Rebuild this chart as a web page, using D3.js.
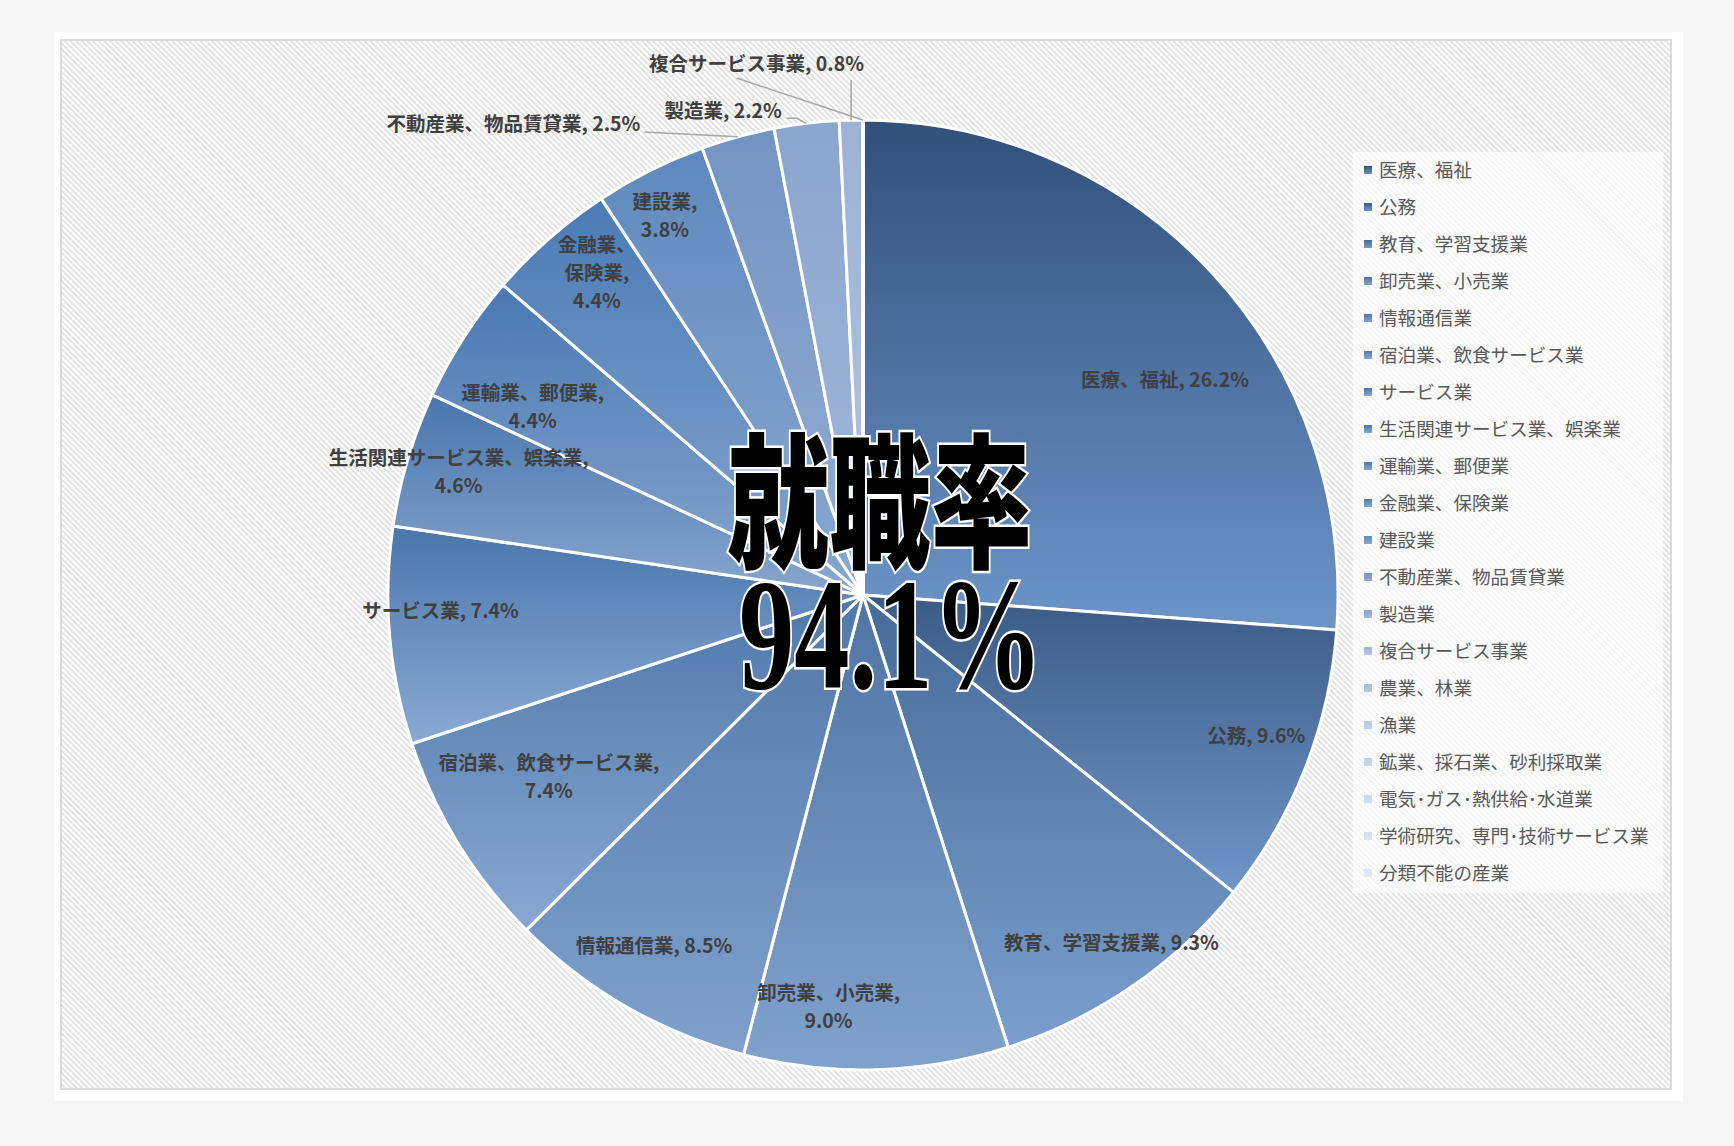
<!DOCTYPE html>
<html>
<head>
<meta charset="utf-8">
<script src="https://cdn.jsdelivr.net/npm/d3@7/dist/d3.min.js"></script>
<style>
  html, body { margin: 0; padding: 0; background: #f5f5f5; }
  svg { display: block; }
</style>
</head>
<body>
<svg id="chart"></svg>
<script>
// 業種別の就職者割合 (%)
const categories = [
  "医療、福祉", "公務", "教育、学習支援業", "卸売業、小売業", "情報通信業",
  "宿泊業、飲食サービス業", "サービス業", "生活関連サービス業、娯楽業", "運輸業、郵便業", "金融業、保険業",
  "建設業", "不動産業、物品賃貸業", "製造業", "複合サービス事業", "農業、林業",
  "漁業", "鉱業、採石業、砂利採取業", "電気･ガス･熱供給･水道業", "学術研究、専門･技術サービス業", "分類不能の産業"
];
const shares = [26.2, 9.6, 9.3, 9.0, 8.5, 7.4, 7.4, 4.6, 4.4, 4.4, 3.8, 2.5, 2.2, 0.8, 0, 0, 0, 0, 0, 0];
const centerTitle = "就職率";
const centerRate = "94.1%";

// slice gradient colours (top -> bottom)
const sliceTop = ["#31507a","#3b5b86","#476b99","#4f74a5","#5278aa","#4f78aa","#4a76ab","#4a76ad","#4a78b2","#4b7bb5",
                  "#5f89bd","#7393c2","#8aa5ce","#9cb2d6","#a6b9db","#b3c4e1","#c0cee6","#cbd6ea","#d5ddee","#dee4f1"];
const sliceBottom = ["#6c95c9","#6f96c8","#7a9ecd","#80a2cd","#80a1cc","#88a8d1","#8aaad3","#87a6cf","#88a8d0","#86a6cf",
                     "#8aa9d1","#94aed5","#a2b8da","#b3c5e1","#b9c8e2","#c2d0e6","#cdd8ea","#d5deee","#dde4f1","#e5eaf4"];

// label placement: angle nudge (deg) from slice middle, radius factor, line wrap
const labelLayout = [
  [7.5, 0.78, 1], [-1.7, 0.88, 1], [-1.0, 0.90, 1], [6.4, 0.87, 2], [0.9, 0.86, 1],
  [1.4, 0.765, 2], [2.8, 0.89, 1], [0.3, 0.89, 2], [-3.2, 0.80, 2], [1.8, 0.88, 3],
  [-1.0, 0.90, 2], [-21.3, 1.235, 1], [-9.3, 1.06, 1], [-9.9, 1.14, 1]
];

const width = 1734, height = 1146,
    cx = 863, cy = 595, radius = 475,
    labelFont = "'Noto Sans CJK JP', 'Noto Sans', sans-serif";

let svg = d3.select("#chart").attr("width", width).attr("height", height);
let defs = svg.append("defs");

let hatch = defs.append("pattern")
    .attr("id", "hatch")
    .attr("patternUnits", "userSpaceOnUse")
    .attr("width", 4).attr("height", 4)
    .attr("patternTransform", "rotate(-45)");
hatch.append("rect").attr("width", 4).attr("height", 4).attr("fill", "#ffffff");
hatch.append("rect").attr("width", 1.5).attr("height", 4).attr("fill", "#d9d9d9");

categories.forEach(function(c, i){
    let g = defs.append("linearGradient")
        .attr("id", "grad" + i)
        .attr("x1", 0).attr("y1", 0).attr("x2", 0).attr("y2", 1);
    g.append("stop").attr("offset", "0%").attr("stop-color", sliceTop[i]);
    g.append("stop").attr("offset", "100%").attr("stop-color", sliceBottom[i]);
});

// frame
svg.append("rect").attr("x", 54).attr("y", 32).attr("width", 1629).attr("height", 1069).attr("fill", "#ffffff");
svg.append("rect").attr("x", 61).attr("y", 40).attr("width", 1610).attr("height", 1049)
    .attr("fill", "url(#hatch)").attr("stroke", "#d9d9d9").attr("stroke-width", 2);

// pie
let pie = d3.pie().sort(null).value(function(d){ return d; }).startAngle(0).endAngle(2 * Math.PI);
let arcs = pie(shares);
let arc = d3.arc().innerRadius(0).outerRadius(radius);

let g = svg.append("g").attr("transform", "translate(" + cx + "," + cy + ")");
g.selectAll(".slice")
    .data(arcs)
    .enter()
    .append("path")
    .attr("class", "slice")
    .attr("d", arc)
    .attr("fill", function(d, i){ return "url(#grad" + i + ")"; })
    .attr("stroke", "#ffffff")
    .attr("stroke-width", 3)
    .attr("stroke-linejoin", "round");

function polar(angle, r){
    return [Math.sin(angle) * r, -Math.cos(angle) * r];
}

// data labels
let labels = g.append("g").attr("class", "labels");
labelLayout.forEach(function(l, i){
    let d = arcs[i],
        mid = (d.startAngle + d.endAngle) / 2,
        p = polar(mid + l[0] * Math.PI / 180, radius * l[1]),
        name = categories[i],
        val = shares[i].toFixed(1) + "%",
        lines;
    if (l[2] === 1) lines = [name + ", " + val];
    else if (l[2] === 2) lines = [name + ",", val];
    else {
        let parts = name.split("、");
        lines = [parts[0] + "、", parts[1] + ",", val];
    }
    let lh = 28,
        t = labels.append("text")
            .attr("x", p[0]).attr("y", p[1])
            .attr("text-anchor", "middle")
            .attr("font-family", labelFont)
            .attr("font-weight", "bold")
            .attr("font-size", 19.5)
            .attr("fill", "#404040");
    lines.forEach(function(s, k){
        t.append("tspan")
            .attr("x", p[0])
            .attr("y", p[1] + (k - (lines.length - 1) / 2) * lh)
            .attr("dy", "0.35em")
            .text(s);
    });
    arcs[i].labelPos = p;
    arcs[i].labelWidth = t.node().getComputedTextLength();
});

// leader lines for the outside labels
let leaders = g.append("g").attr("fill", "none").attr("stroke", "#a6a6a6").attr("stroke-width", 1.5);
[11, 12, 13].forEach(function(i){
    let d = arcs[i],
        mid = (d.startAngle + d.endAngle) / 2,
        e = polar(mid, radius),
        p = d.labelPos,
        right = p[0] + d.labelWidth / 2,
        pts;
    if (i === 11) pts = [[right + 4, p[1] + 8], e];
    else if (i === 12) pts = [[right + 5, p[1] + 7], [right + 15, p[1] + 7], e];
    else pts = [[e[0], p[1] + 16], e];
    leaders.append("path").attr("d", d3.line()(pts));
});
// leader of the zero-valued slices at the end of the circle
let zEnd = polar(arcs[14].startAngle, radius),
    zp = arcs[13].labelPos;
leaders.append("path").attr("d", d3.line()([[zp[0] - 20, zp[1] + 14], zEnd]));

// centre text (one text block, condensed horizontally)
let sx = 0.70;
let centre = svg.append("text")
    .attr("transform", "scale(" + sx + ",1)")
    .attr("text-anchor", "middle")
    .attr("fill", "#000000")
    .attr("stroke", "#ffffff")
    .attr("stroke-width", 5)
    .attr("paint-order", "stroke");
centre.append("tspan")
    .attr("x", 880 / sx).attr("y", 557)
    .attr("font-family", "'Noto Sans CJK JP', sans-serif")
    .attr("font-weight", 900)
    .attr("font-size", 145)
    .text(centerTitle);
centre.append("tspan")
    .attr("x", 891 / sx).attr("y", 688)
    .attr("font-family", "'Liberation Serif', 'DejaVu Serif', serif")
    .attr("font-weight", "bold")
    .attr("font-size", 158)
    .text(centerRate);

// legend
let legend = svg.append("g").attr("class", "legend");
legend.append("rect")
    .attr("x", 1353).attr("y", 152).attr("width", 310).attr("height", 741)
    .attr("fill", "#ffffff").attr("fill-opacity", 0.6);
let rowY = d3.scalePoint(d3.range(categories.length), [170, 873]);
categories.forEach(function(c, i){
    legend.append("rect")
        .attr("x", 1364).attr("y", rowY(i) - 4)
        .attr("width", 8).attr("height", 8)
        .attr("fill", "url(#grad" + i + ")");
    legend.append("text")
        .attr("x", 1379).attr("y", rowY(i))
        .attr("dy", "0.35em")
        .attr("font-family", labelFont)
        .attr("font-size", 18.6)
        .attr("fill", "#595959")
        .text(c);
});
</script>
</body>
</html>
